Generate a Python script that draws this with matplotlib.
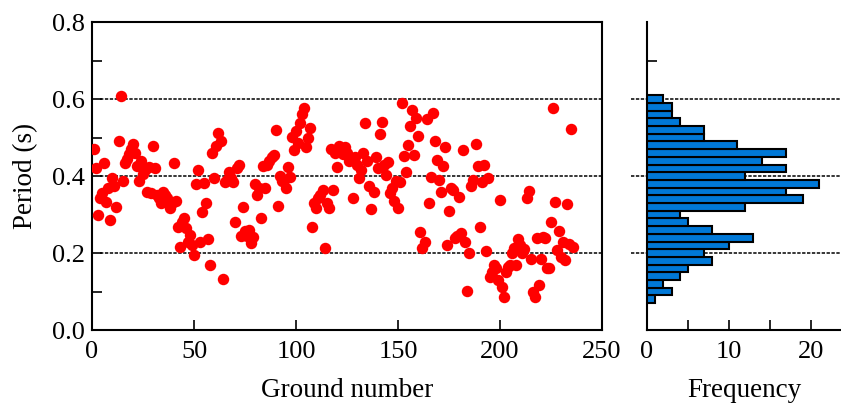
import matplotlib
matplotlib.use("Agg")
import matplotlib.pyplot as plt
import numpy as np

plt.rcParams['font.family'] = ['Liberation Serif', 'DejaVu Serif']

# period of each ground (ground number 1..236)
period = [
    0.470, 0.420, 0.300, 0.343, 0.357, 0.434, 0.333, 0.370, 0.285, 0.396,
    0.375, 0.320, 0.490, 0.607, 0.387, 0.433, 0.445, 0.457, 0.470, 0.483,
    0.460, 0.426, 0.387, 0.440, 0.406, 0.415, 0.360, 0.424, 0.357, 0.477,
    0.420, 0.350, 0.343, 0.330, 0.360, 0.350, 0.343, 0.317, 0.330, 0.434,
    0.335, 0.267, 0.216, 0.280, 0.291, 0.265, 0.230, 0.247, 0.220, 0.196,
    0.380, 0.417, 0.229, 0.306, 0.383, 0.330, 0.237, 0.170, 0.461, 0.396,
    0.478, 0.513, 0.490, 0.132, 0.385, 0.390, 0.411, 0.395, 0.385, 0.280,
    0.420, 0.430, 0.245, 0.320, 0.257, 0.245, 0.260, 0.226, 0.243, 0.380,
    0.352, 0.370, 0.290, 0.426, 0.368, 0.430, 0.440, 0.450, 0.455, 0.519,
    0.322, 0.400, 0.387, 0.390, 0.368, 0.423, 0.397, 0.502, 0.467, 0.517,
    0.487, 0.537, 0.561, 0.577, 0.476, 0.500, 0.526, 0.267, 0.330, 0.317,
    0.343, 0.350, 0.365, 0.213, 0.330, 0.317, 0.470, 0.363, 0.460, 0.423,
    0.478, 0.470, 0.457, 0.476, 0.460, 0.440, 0.448, 0.343, 0.450, 0.430,
    0.394, 0.415, 0.460, 0.537, 0.440, 0.374, 0.315, 0.360, 0.450, 0.420,
    0.510, 0.540, 0.430, 0.404, 0.437, 0.357, 0.370, 0.335, 0.387, 0.317,
    0.384, 0.590, 0.452, 0.411, 0.480, 0.530, 0.572, 0.455, 0.550, 0.504,
    0.254, 0.213, 0.230, 0.548, 0.329, 0.397, 0.565, 0.491, 0.443, 0.390,
    0.360, 0.426, 0.476, 0.222, 0.309, 0.370, 0.364, 0.240, 0.244, 0.345,
    0.252, 0.468, 0.229, 0.102, 0.200, 0.374, 0.390, 0.483, 0.426, 0.268,
    0.385, 0.428, 0.206, 0.396, 0.139, 0.150, 0.170, 0.160, 0.130, 0.337,
    0.113, 0.087, 0.150, 0.165, 0.170, 0.200, 0.213, 0.170, 0.237, 0.220,
    0.200, 0.211, 0.343, 0.361, 0.185, 0.100, 0.087, 0.239, 0.117, 0.185,
    0.243, 0.240, 0.162, 0.162, 0.281, 0.577, 0.333, 0.208, 0.257, 0.191,
    0.230, 0.183, 0.328, 0.224, 0.522, 0.215,
]
ground = np.arange(1, len(period) + 1)

# histogram: bin centres (s) and counts
bin_centers = [0.08, 0.10, 0.12, 0.14, 0.16, 0.18, 0.20, 0.22, 0.24, 0.26,
               0.28, 0.30, 0.32, 0.34, 0.36, 0.38, 0.40, 0.42, 0.44, 0.46,
               0.48, 0.50, 0.52, 0.54, 0.56, 0.58, 0.60]
counts = [1, 3, 2, 4, 5, 8, 7, 10, 13, 8,
          5, 4, 12, 19, 17, 21, 12, 17, 14, 17,
          11, 7, 7, 4, 3, 3, 2]
grid_levels = [0.2, 0.4, 0.6]

fig = plt.figure(figsize=(8.41, 4.03), dpi=100)
ax = fig.add_axes([0.1094, 0.181, 0.6064, 0.764])
axh = fig.add_axes([0.7693, 0.181, 0.2307, 0.764])

dash = (0, (2.2, 1.0))

# scatter
for g in grid_levels:
    ax.plot([4, 250], [g, g], color='black', lw=1.1, ls=dash, zorder=1)
ax.scatter(ground, period, s=68, color='#ff0000', marker='o', linewidths=0, zorder=3)
ax.set_xlim(0, 250)
ax.set_ylim(0, 0.8)
ax.set_xticks([0, 50, 100, 150, 200, 250])
ax.set_yticks([0.0, 0.2, 0.4, 0.6, 0.8])
ax.set_yticks([0.1, 0.3, 0.5, 0.7], minor=True)
ax.set_yticklabels(['0.0', '0.2', '0.4', '0.6', '0.8'])
ax.tick_params(which='both', direction='in', labelsize=19, width=1.2, length=7)
ax.tick_params(axis='x', pad=8)
ax.tick_params(axis='y', pad=5)
ax.set_xlabel('Ground number', fontsize=19.5, labelpad=11)
ax.set_ylabel('Period (s)', fontsize=19.5, labelpad=10)
for sp in ax.spines.values():
    sp.set_linewidth(1.5)

# histogram
xmax = 23.7
for g in grid_levels:
    axh.plot([-2.0, xmax], [g, g], color='black', lw=1.1, ls=dash,
             zorder=1, clip_on=False)
axh.barh(bin_centers, counts, height=0.02, color='#0078d7',
         edgecolor='black', linewidth=1.5, zorder=3)
axh.set_xlim(0, xmax)
axh.set_ylim(0, 0.8)
axh.set_xticks([0, 10, 20])
axh.set_xticks([5, 15], minor=True)
axh.set_yticks([0.1, 0.2, 0.3, 0.4, 0.5, 0.6, 0.7])
axh.set_yticklabels([])
axh.tick_params(which='both', direction='in', labelsize=19, width=1.2, length=7)
axh.tick_params(axis='x', pad=8)
axh.set_xlabel('Frequency', fontsize=19.5, labelpad=11)
axh.spines['top'].set_visible(False)
axh.spines['right'].set_visible(False)
for sp in ['left', 'bottom']:
    axh.spines[sp].set_linewidth(1.5)

fig.savefig('out.png', dpi=100)
